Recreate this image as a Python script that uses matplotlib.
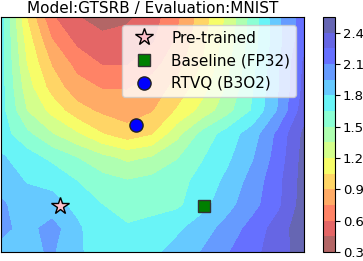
#importing modules
import numpy as np
import matplotlib
matplotlib.use('Agg')
import matplotlib.pyplot as plt
from matplotlib.colors import ListedColormap


#------------------------------------DATA----------------------------------------#

#grid positions of the loss landscape (x left->right, y top->bottom)
x_grid = np.linspace(0, 1, 13)
y_grid = np.linspace(1, 0, 11)

#loss values, one row per y (top row first)
row0  = [1.72, 1.05, 0.62, 0.46, 0.37, 0.42, 0.53, 0.72, 0.98, 1.23, 1.57, 1.92, 2.17]
row1  = [1.70, 1.14, 0.76, 0.56, 0.50, 0.51, 0.58, 0.77, 1.01, 1.27, 1.58, 1.90, 2.20]
row2  = [1.70, 1.20, 0.89, 0.70, 0.59, 0.59, 0.70, 0.84, 1.06, 1.31, 1.61, 1.93, 2.27]
row3  = [1.70, 1.27, 0.99, 0.81, 0.74, 0.74, 0.81, 0.95, 1.14, 1.37, 1.64, 1.94, 2.28]
row4  = [1.70, 1.35, 1.15, 0.96, 0.87, 0.83, 0.89, 1.07, 1.25, 1.45, 1.67, 1.96, 2.33]
row5  = [1.72, 1.54, 1.36, 1.22, 1.06, 0.96, 1.04, 1.30, 1.55, 1.72, 1.88, 2.14, 2.43]
row6  = [1.82, 1.72, 1.61, 1.50, 1.39, 1.31, 1.36, 1.49, 1.64, 1.77, 1.94, 2.17, 2.45]
row7  = [1.90, 1.79, 1.77, 1.65, 1.56, 1.51, 1.55, 1.60, 1.70, 1.84, 2.01, 2.21, 2.46]
row8  = [1.97, 1.88, 1.84, 1.77, 1.65, 1.61, 1.60, 1.62, 1.75, 1.90, 2.05, 2.22, 2.47]
row9  = [2.00, 1.88, 2.02, 1.82, 1.72, 1.66, 1.70, 1.77, 1.88, 2.01, 2.16, 2.32, 2.50]
row10 = [1.88, 1.90, 1.97, 1.82, 1.74, 1.71, 1.76, 1.86, 1.96, 2.09, 2.21, 2.33, 2.48]

#marker points
labels = ['Pre-trained', 'Baseline (FP32)', 'RTVQ (B3O2)']
point_x = [0.195, 0.670, 0.446]
point_y = [0.196, 0.196, 0.540]

cbar_ticks = [0.3, 0.6, 0.9, 1.2, 1.5, 1.8, 2.1, 2.4]


#------------------------------------PLOTTING----------------------------------------#

Z = np.array([row0, row1, row2, row3, row4, row5, row6, row7, row8, row9, row10])
X, Y = np.meshgrid(x_grid, y_grid)

levels = np.arange(0.3, 2.56, 0.15)

#jet_r at alpha 0.6 over white, baked into solid colours (no seams between bands)
base = plt.get_cmap('jet_r')(np.linspace(0, 1, len(levels) - 1))
soft = base.copy()
soft[:, :3] = 0.6 * base[:, :3] + 0.4
cmap = ListedColormap(soft)

fig = plt.figure(figsize=(3.63, 2.61), dpi=100)
ax = fig.add_axes([0.003, 0.0345, 0.834, 0.9005])
cax = fig.add_axes([0.890, 0.0345, 0.033, 0.9005])

cf = ax.contourf(X, Y, Z, levels=levels, cmap=cmap)

#markers
ax.plot(point_x[0], point_y[0], '*', color='pink', markeredgecolor='black',
        markersize=13, label=labels[0], linestyle='none')
ax.plot(point_x[1], point_y[1], 's', color='green', markeredgecolor='#333333',
        markersize=9, label=labels[1], linestyle='none')
ax.plot(point_x[2], point_y[2], 'o', color='blue', markeredgecolor='#222222',
        markersize=9.5, label=labels[2], linestyle='none')

ax.set_xlim(0, 1)
ax.set_ylim(0, 1)
ax.set_xticks([])
ax.set_yticks([])
ax.set_title('Model:GTSRB / Evaluation:MNIST', fontsize=11, pad=3)
ax.legend(loc='upper right', fontsize=11)

cb = fig.colorbar(cf, cax=cax, ticks=cbar_ticks)
cb.ax.tick_params(labelsize=9.5, pad=2)
cb.ax.set_yticklabels([str(t) for t in cbar_ticks])

plt.savefig('out.png', dpi=100)
